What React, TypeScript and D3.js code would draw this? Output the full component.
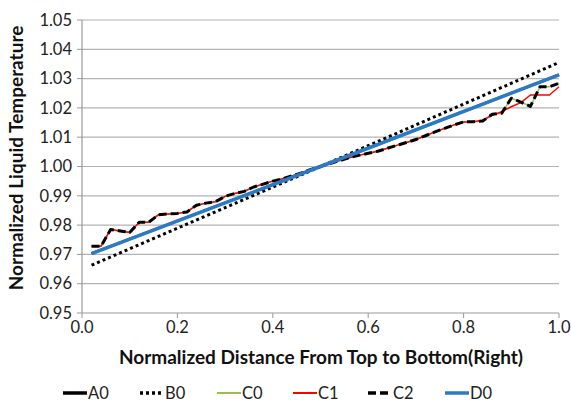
import React from 'react';
import * as d3 from 'd3';

// sample positions along the normalized distance
const xs = [
  0.02, 0.04, 0.06, 0.08, 0.1, 0.12, 0.14, 0.16, 0.18, 0.2,
  0.22, 0.24, 0.26, 0.28, 0.3, 0.32, 0.34, 0.36, 0.38, 0.4,
  0.42, 0.44, 0.46, 0.48, 0.5, 0.52, 0.54, 0.56, 0.58, 0.6,
  0.62, 0.64, 0.66, 0.68, 0.7, 0.72, 0.74, 0.76, 0.78, 0.8,
  0.82, 0.84, 0.86, 0.88, 0.9, 0.92, 0.94, 0.96, 0.98, 1.0,
];

const c2 = [
  0.9728, 0.9728, 0.9785, 0.978, 0.9775, 0.981, 0.981, 0.9835, 0.9838, 0.984,
  0.9845, 0.9868, 0.9875, 0.988, 0.9898, 0.9908, 0.9915, 0.993, 0.994, 0.995,
  0.9958, 0.9968, 0.9978, 0.999, 1.0, 1.001, 1.002, 1.003, 1.0038, 1.0045,
  1.0052, 1.0062, 1.0072, 1.0082, 1.0092, 1.0105, 1.0118, 1.013, 1.0142, 1.0152,
  1.0153, 1.0155, 1.0178, 1.0182, 1.0233, 1.022, 1.0205, 1.0272, 1.0272, 1.0284,
];

const c1 = [
  0.9728, 0.9728, 0.9785, 0.978, 0.9775, 0.981, 0.981, 0.9835, 0.9838, 0.984,
  0.9845, 0.9868, 0.9875, 0.988, 0.9898, 0.9908, 0.9915, 0.993, 0.994, 0.995,
  0.9958, 0.9968, 0.9978, 0.999, 1.0, 1.001, 1.002, 1.003, 1.0038, 1.0045,
  1.0052, 1.0062, 1.0072, 1.0082, 1.0092, 1.0105, 1.0118, 1.013, 1.0142, 1.0152,
  1.0153, 1.0158, 1.0175, 1.0187, 1.0204, 1.0218, 1.0244, 1.0244, 1.0244, 1.0272,
];

const c0 = c2.slice();

// straight fits
const lineXs = [0.02, 0.5, 1.0];
const a0 = [0.9703, 1.0, 1.0313];
const b0 = [0.9663, 1.0, 1.0355];
const d0 = [0.9703, 1.0, 1.0313];

const yTicks = [0.95, 0.96, 0.97, 0.98, 0.99, 1.0, 1.01, 1.02, 1.03, 1.04, 1.05];
const xTicks = [0, 0.2, 0.4, 0.6, 0.8, 1.0];

const W = 571;
const H = 410;
const FONT = 'Lato, "Open Sans", sans-serif';

type Series = { name: string; x: number[]; y: number[]; color: string; width: number; dash?: string };

const series: Series[] = [
  { name: 'A0', x: lineXs, y: a0, color: '#000', width: 2.5 },
  { name: 'B0', x: lineXs, y: b0, color: '#000', width: 3, dash: '3,3' },
  { name: 'C0', x: xs, y: c0, color: '#9bbb59', width: 1.5 },
  { name: 'C1', x: xs, y: c1, color: '#ff0000', width: 1.5 },
  { name: 'C2', x: xs, y: c2, color: '#000', width: 3, dash: '8,4' },
  { name: 'D0', x: lineXs, y: d0, color: '#2b7bc4', width: 3.5 },
];

const legendX = [63, 140, 217, 293, 368, 445];

export default function App() {
  const x = d3.scaleLinear().domain([0, 1]).range([82, 559]);
  const y = d3.scaleLinear().domain([0.95, 1.05]).range([313, 20]);

  return (
    <svg width={W} height={H} style={{ position: 'absolute', left: 0, top: 0, background: '#fff' }}>
      {yTicks.map((t) => (
        <g key={t}>
          {t > 0.95 && <line x1={82} x2={559} y1={y(t)} y2={y(t)} stroke="#b3b3b3" strokeWidth={1.2} />}
          <line x1={77} x2={82} y1={y(t)} y2={y(t)} stroke="#999" />
          <text x={72} y={y(t)} dy="0.35em" textAnchor="end" fontFamily={FONT} fontSize={16.5} fill="#222">
            {t.toFixed(2)}
          </text>
        </g>
      ))}
      <line x1={82} x2={82} y1={20} y2={313} stroke="#999" strokeWidth={1.2} />
      <line x1={82} x2={559} y1={313} y2={313} stroke="#999" strokeWidth={1.2} />
      {xTicks.map((t) => (
        <g key={t}>
          <line x1={x(t)} x2={x(t)} y1={313} y2={318} stroke="#999" />
          <text x={x(t)} y={333} textAnchor="middle" fontFamily={FONT} fontSize={16.5} fill="#222">
            {t.toFixed(1)}
          </text>
        </g>
      ))}
      {series.map((s) => {
        const line = d3
          .line<number>()
          .x((_, i) => x(s.x[i]))
          .y((v) => y(v));
        return (
          <path
            key={s.name}
            d={line(s.y) || ''}
            fill="none"
            stroke={s.color}
            strokeWidth={s.width}
            strokeDasharray={s.dash}
            strokeLinejoin="round"
          />
        );
      })}
      <text
        transform="translate(23,158) rotate(-90)"
        textAnchor="middle"
        fontFamily={FONT}
        fontWeight="bold"
        fontSize={19}
        fill="#111"
      >
        Normalized Liquid Temperature
      </text>
      <text x={321} y={364} textAnchor="middle" fontFamily={FONT} fontWeight="bold" fontSize={19} fill="#111">
        Normalized Distance From Top to Bottom(Right)
      </text>
      {series.map((s, i) => (
        <g key={s.name}>
          <line
            x1={legendX[i]}
            x2={legendX[i] + 24}
            y1={393}
            y2={393}
            stroke={s.color}
            strokeWidth={s.name === 'C0' || s.name === 'C1' ? 2 : 3.5}
            strokeDasharray={s.dash}
          />
          <text x={legendX[i] + 25} y={393} dy="0.35em" fontFamily={FONT} fontSize={16.5} fill="#222">
            {s.name}
          </text>
        </g>
      ))}
    </svg>
  );
}
